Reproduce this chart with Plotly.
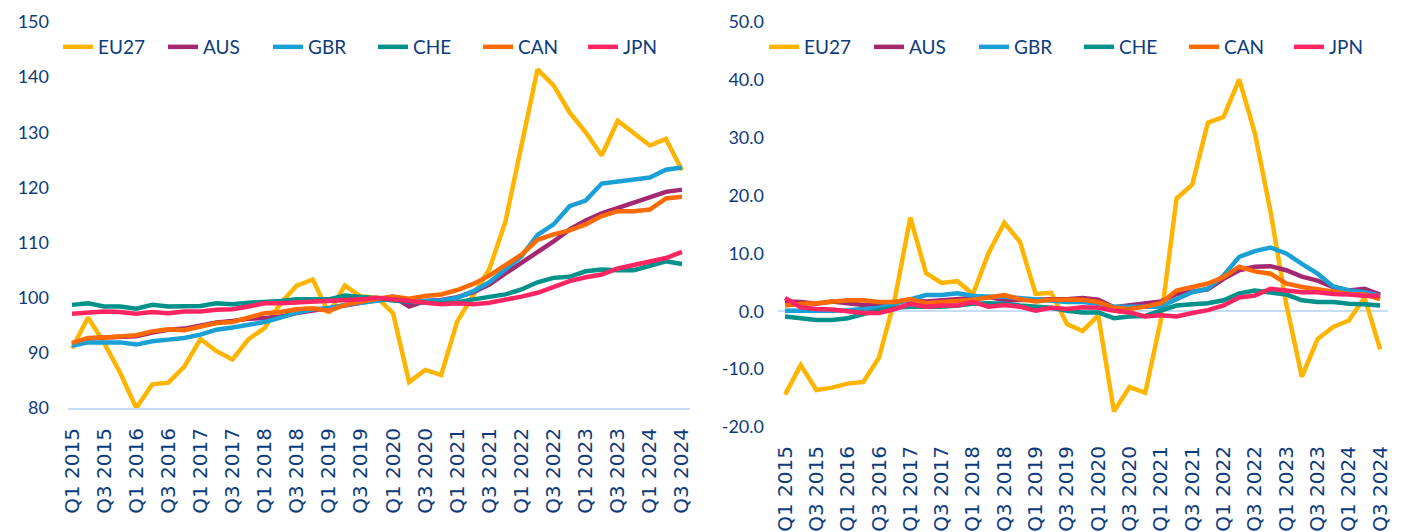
import plotly.graph_objects as go

quarters = [f"Q{q} {y}" for y in range(2015, 2025) for q in range(1, 5)][:39]

series = ["EU27", "AUS", "GBR", "CHE", "CAN", "JPN"]
colors = ["#FFB400", "#A3286F", "#1AA0D5", "#00918A", "#FF6A00", "#FF2563"]

# Left panel: index levels
eu27_idx = [90.8, 96.4, 91.8, 86.4, 80.0, 84.3, 84.6, 87.5, 92.5, 90.3, 88.8, 92.5, 94.5, 99.0,
            102.2, 103.3, 97.2, 102.2, 100.2, 100.0, 97.2, 84.7, 86.9, 86.0, 95.7, 100.5, 105.2,
            113.8, 128.0, 141.4, 138.5, 133.6, 130.0, 125.8, 132.1, 129.9, 127.6, 128.8, 123.1]
aus_idx = [91.6, 92.6, 92.8, 93.0, 93.0, 93.7, 94.2, 94.4, 95.0, 95.5, 95.8, 96.2, 96.3, 96.6,
           97.2, 97.6, 98.0, 98.6, 99.1, 99.6, 100.2, 98.4, 99.4, 99.6, 100.1, 101.0, 102.4,
           104.4, 106.3, 108.2, 110.2, 112.4, 114.0, 115.3, 116.3, 117.3, 118.3, 119.2, 119.6]
gbr_idx = [91.3, 91.9, 91.9, 91.9, 91.5, 92.1, 92.4, 92.7, 93.3, 94.2, 94.6, 95.0, 95.6, 96.4,
           97.3, 97.9, 98.1, 98.7, 99.1, 99.6, 99.8, 99.3, 99.3, 99.5, 100.0, 101.2, 102.8,
           105.1, 107.5, 111.4, 113.3, 116.6, 117.6, 120.7, 121.0, 121.3, 121.8, 123.2, 123.6]
che_idx = [98.7, 99.0, 98.4, 98.4, 98.0, 98.7, 98.4, 98.4, 98.5, 99.0, 98.8, 99.1, 99.2, 99.4,
           99.7, 99.7, 99.7, 100.4, 100.2, 99.9, 99.5, 99.2, 99.1, 99.0, 99.2, 99.7, 100.2,
           100.6, 101.5, 102.8, 103.6, 103.8, 104.8, 105.1, 105.0, 105.0, 105.8, 106.6, 106.1]
can_idx = [91.8, 92.7, 92.8, 93.0, 93.2, 93.9, 94.3, 94.1, 94.8, 95.4, 95.6, 96.3, 97.2, 97.4,
           97.9, 98.1, 97.6, 98.7, 99.3, 99.8, 100.2, 99.8, 100.3, 100.6, 101.4, 102.5, 104.0,
           105.8, 107.8, 110.5, 111.5, 112.2, 113.3, 114.8, 115.7, 115.7, 116.0, 118.0, 118.3]
jpn_idx = [97.1, 97.4, 97.5, 97.4, 97.1, 97.4, 97.2, 97.5, 97.5, 97.8, 97.9, 98.4, 99.0, 99.0,
           99.1, 99.2, 99.3, 99.6, 99.7, 100.0, 99.7, 99.4, 99.3, 98.8, 99.0, 98.8, 99.1,
           99.6, 100.2, 100.9, 101.9, 103.0, 103.7, 104.2, 105.3, 106.0, 106.5, 107.2, 108.3]

# Right panel: year-on-year change (%)
eu27_yoy = [-14.4, -9.3, -13.6, -13.2, -12.5, -12.2, -8.0, 2.0, 16.2, 6.6, 4.9, 5.2, 3.0, 10.1,
            15.3, 12.0, 3.0, 3.2, -2.2, -3.4, -0.7, -17.3, -13.1, -14.1, -1.5, 19.5, 21.9,
            32.6, 33.6, 40.1, 30.8, 17.2, 1.3, -11.3, -4.8, -2.7, -1.6, 2.4, -6.6]
aus_yoy = [1.7, 1.6, 1.3, 1.7, 1.4, 1.1, 1.3, 1.6, 1.9, 1.7, 1.9, 2.2, 2.3, 2.5,
           1.9, 1.9, 2.0, 2.1, 2.1, 2.3, 2.0, 0.7, 1.0, 1.3, 1.7, 3.0, 3.4,
           3.8, 5.6, 7.1, 7.7, 7.8, 7.1, 6.0, 5.3, 4.2, 3.6, 3.9, 2.9]
gbr_yoy = [0.1, 0.1, 0.0, 0.1, 0.2, 0.4, 0.6, 1.3, 2.1, 2.8, 2.8, 3.1, 2.7, 2.5,
           2.5, 2.3, 2.1, 1.9, 1.6, 1.6, 1.3, 0.8, 0.8, 0.8, 0.8, 2.1, 3.3,
           3.9, 6.2, 9.4, 10.4, 11.0, 10.0, 8.2, 6.5, 4.3, 3.6, 3.3, 2.7]
che_yoy = [-0.9, -1.2, -1.5, -1.5, -1.2, -0.5, 0.2, 0.6, 0.8, 0.8, 0.8, 1.0, 1.3, 1.4,
           1.3, 1.0, 0.8, 0.6, 0.1, -0.2, -0.2, -1.2, -0.9, -0.8, 0.1, 1.0, 1.2,
           1.4, 1.9, 3.1, 3.6, 3.3, 2.9, 1.9, 1.6, 1.6, 1.3, 1.2, 1.0]
can_yoy = [1.0, 1.3, 1.4, 1.6, 1.9, 1.9, 1.6, 1.6, 2.1, 1.4, 1.6, 1.7, 2.0, 2.4,
           2.8, 2.1, 1.7, 2.0, 2.0, 2.0, 1.6, 0.6, 0.4, 0.8, 1.4, 3.6, 4.2,
           4.8, 5.9, 7.7, 6.9, 6.5, 4.8, 4.2, 3.8, 3.4, 3.0, 2.9, 2.1]
jpn_yoy = [2.3, 0.7, 0.4, 0.3, 0.0, -0.3, -0.3, 0.4, 1.3, 0.8, 1.0, 1.0, 1.6, 0.8,
           1.1, 0.8, 0.1, 0.6, 0.4, 0.7, 0.6, 0.1, -0.2, -0.9, -0.7, -0.9, -0.3,
           0.2, 1.0, 2.4, 2.7, 3.9, 3.6, 3.3, 3.3, 3.0, 2.9, 2.7, 2.7]

left_vals = [eu27_idx, aus_idx, gbr_idx, che_idx, can_idx, jpn_idx]
right_vals = [eu27_yoy, aus_yoy, gbr_yoy, che_yoy, can_yoy, jpn_yoy]

left_ticks = [80, 90, 100, 110, 120, 130, 140, 150]
right_ticks = [-20, -10, 0, 10, 20, 30, 40, 50]
right_ticktext = [f"{v:.1f}" for v in right_ticks]
shown_quarters = quarters[::2]

NAVY = "#0d3b7c"
AXISBLUE = "#c6ddf6"
FONT = "Lato, 'Noto Sans', sans-serif"
W, H = 1403, 532

fig = go.Figure()
for name, col, vals in zip(series, colors, left_vals):
    fig.add_trace(go.Scatter(x=quarters, y=vals, name=name, mode="lines",
                             line=dict(color=col, width=4.5), xaxis="x", yaxis="y",
                             legend="legend"))
for name, col, vals in zip(series, colors, right_vals):
    fig.add_trace(go.Scatter(x=quarters, y=vals, name=name, mode="lines",
                             line=dict(color=col, width=4.5), xaxis="x2", yaxis="y2",
                             legend="legend2"))

xcommon = dict(type="category", tickmode="array", tickvals=shown_quarters,
               ticktext=shown_quarters, tickangle=-90, showgrid=False, automargin=False,
               tickfont=dict(family="'DejaVu Sans', sans-serif", size=20, color=NAVY),
               ticks="", range=[-0.25, 38.5], fixedrange=True)

fig.update_layout(
    width=W, height=H,
    margin=dict(l=0, r=0, t=0, b=0, autoexpand=False),
    paper_bgcolor="white", plot_bgcolor="white",
    showlegend=True,
    xaxis=dict(**xcommon, domain=[68 / W, 690 / W], anchor="y",
               showline=True, linecolor=AXISBLUE, linewidth=2, zeroline=False,
               ticklabelstandoff=10),
    yaxis=dict(domain=[(H - 408) / H, (H - 22) / H], range=[80, 150], automargin=False,
               tickvals=left_ticks, showgrid=False, zeroline=False, showline=False,
               tickfont=dict(family=FONT, size=18, color=NAVY), ticks="",
               ticklabelstandoff=18, anchor="x"),
    xaxis2=dict(**{**xcommon, "range": [-0.45, 38.5]}, domain=[778 / W, 1388 / W], anchor="y2",
                showline=False, zeroline=False, ticklabelstandoff=14),
    yaxis2=dict(domain=[(H - 427) / H, (H - 22) / H], range=[-20, 50], automargin=False,
                tickvals=right_ticks, ticktext=right_ticktext, showgrid=False,
                zeroline=True, zerolinecolor=AXISBLUE, zerolinewidth=2, showline=False,
                tickfont=dict(family=FONT, size=18, color=NAVY), ticks="",
                ticklabelstandoff=13, anchor="x2"),
    legend=dict(orientation="h", x=58 / W, y=1 - 47 / H, xanchor="left", yanchor="middle",
                font=dict(family=FONT, size=19, color=NAVY), bgcolor="rgba(0,0,0,0)",
                entrywidth=60, entrywidthmode="pixels", tracegroupgap=0, itemclick=False),
    legend2=dict(orientation="h", x=764 / W, y=1 - 47 / H, xanchor="left", yanchor="middle",
                 font=dict(family=FONT, size=19, color=NAVY), bgcolor="rgba(0,0,0,0)",
                 entrywidth=60, entrywidthmode="pixels", tracegroupgap=0, itemclick=False),
)

fig.write_html(
    "out.html",
    config={"responsive": False, "displayModeBar": False},
    post_script="document.body.style.margin='0';document.body.style.overflow='hidden';",
)
